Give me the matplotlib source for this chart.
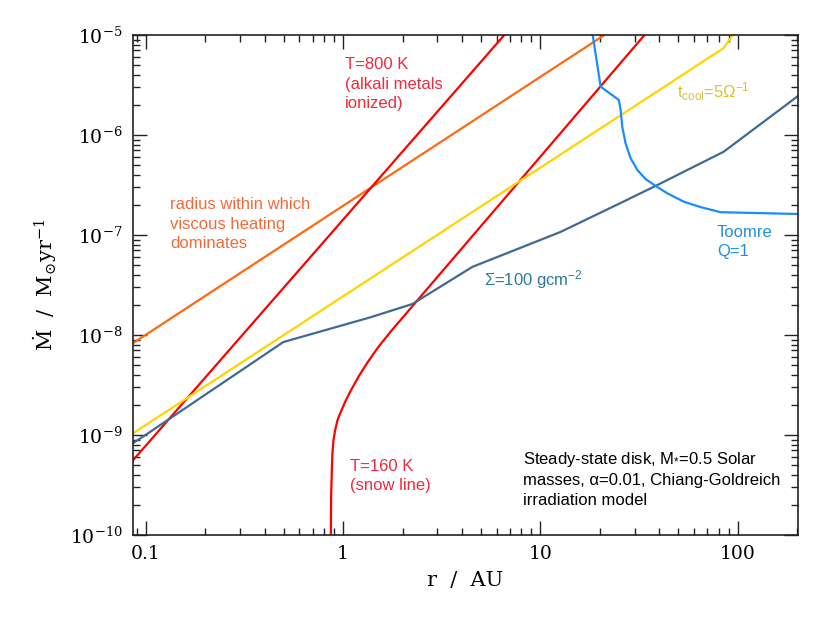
import matplotlib
matplotlib.use("Agg")
import matplotlib.pyplot as plt
from matplotlib.ticker import LogLocator, FixedLocator, FixedFormatter, NullFormatter

# ---------------- data ----------------
r_visc = [0.0861, 21.1]
mdot_visc = [8.3e-9, 1.0e-5]

r_t800 = [0.0861, 6.56]
mdot_t800 = [5.6e-10, 1.0e-5]

r_t160 = [0.866, 0.866, 0.869, 0.876, 0.882, 0.893, 0.911, 0.936, 0.966, 1.024,
          1.085, 1.196, 1.319, 1.511, 1.767, 33.7]
mdot_t160 = [5e-11, 1.12e-10, 2.42e-10, 4.47e-10, 6.56e-10, 8.9e-10, 1.12e-9, 1.41e-9,
             1.65e-9, 2.15e-9, 2.71e-9, 3.83e-9, 5.21e-9, 7.64e-9, 1.12e-8, 1.0e-5]

r_tcool = [0.0861, 84.9, 94.3]
mdot_tcool = [1.04e-9, 7.4e-6, 1.0e-5]

r_sigma = [0.0861, 0.101, 0.497, 1.37, 2.24, 4.52, 12.6, 25.5, 38.4, 84.9, 202]
mdot_sigma = [8.3e-10, 1.02e-9, 8.5e-9, 1.5e-8, 2.04e-8, 4.8e-8,
              1.07e-7, 2.09e-7, 3.1e-7, 6.8e-7, 2.45e-6]

r_toomre = [18.4, 20.2, 24.97, 25.5, 26.0, 27.0, 28.6, 31.0, 34.1, 38.4, 44.0, 53.4, 64.9, 82.0, 209]
mdot_toomre = [1.0e-5, 3.04e-6, 2.24e-6, 1.78e-6, 1.21e-6, 8.3e-7, 5.9e-7, 4.47e-7,
               3.63e-7, 3.09e-7, 2.61e-7, 2.15e-7, 1.9e-7, 1.69e-7, 1.62e-7]

xticks = [0.1, 1, 10, 100]
xticklabels = ["0.1", "1", "10", "100"]
yticks = [1e-10, 1e-9, 1e-8, 1e-7, 1e-6, 1e-5]
yticklabels = [r"$10^{-10}$", r"$10^{-9}$", r"$10^{-8}$", r"$10^{-7}$", r"$10^{-6}$", r"$10^{-5}$"]

# ---------------- figure ----------------
W, H = 830, 623
fig = plt.figure(figsize=(W / 100, H / 100), dpi=100)
L, R, T, B = 132.5, 797.5, 35, 535
ax = fig.add_axes([L / W, 1 - B / H, (R - L) / W, (B - T) / H])

ax.set_xscale("log")
ax.set_yscale("log")
ax.set_xlim(0.0855, 201)
ax.set_ylim(1e-10, 1e-5)

lw = 1.6
ax.plot(r_visc, mdot_visc, color="#FF6A10", lw=lw)
ax.plot(r_t800, mdot_t800, color="#FF0000", lw=lw)
ax.plot(r_t160, mdot_t160, color="#FF0000", lw=lw)
ax.plot(r_tcool, mdot_tcool, color="#FFD400", lw=lw)
ax.plot(r_sigma, mdot_sigma, color="#3E6A94", lw=lw)
ax.plot(r_toomre, mdot_toomre, color="#1A8CFF", lw=lw)

# ticks
ax.xaxis.set_major_locator(FixedLocator(xticks))
ax.xaxis.set_major_formatter(FixedFormatter(xticklabels))
ax.yaxis.set_major_locator(FixedLocator(yticks))
ax.yaxis.set_major_formatter(FixedFormatter(yticklabels))
ax.xaxis.set_minor_locator(LogLocator(base=10, subs=range(2, 10), numticks=20))
ax.yaxis.set_minor_locator(LogLocator(base=10, subs=range(2, 10), numticks=20))
ax.xaxis.set_minor_formatter(NullFormatter())
ax.yaxis.set_minor_formatter(NullFormatter())
ax.tick_params(which="both", direction="in", top=True, right=True, color="#222222")
ax.tick_params(which="major", length=10, width=1.0)
ax.tick_params(which="minor", length=5, width=1.0)
ax.tick_params(axis="x", which="major", pad=7)
ax.tick_params(axis="y", which="major", pad=7)
for lab in ax.get_xticklabels() + ax.get_yticklabels():
    lab.set_fontfamily("DejaVu Serif")
    lab.set_fontsize(13.5)
    lab.set_math_fontfamily("dejavuserif")
for s in ax.spines.values():
    s.set_linewidth(1.2)
    s.set_color("#222222")

# axis labels
fig.text(465 / W, 1 - 580 / H, "r  /  AU", ha="center", va="center",
         fontfamily="DejaVu Serif", fontsize=15)
fig.text(45 / W, 1 - 285 / H, r"$\dot{\mathrm{M}}$  /  M$_{\odot}$yr$^{-1}$",
         ha="center", va="center", rotation=90, fontfamily="DejaVu Serif",
         fontsize=15, math_fontfamily="dejavuserif")


def px(xp, yp):
    return ((xp - L) / (R - L), (B - yp) / (B - T))


sans = dict(fontfamily="Liberation Sans", fontsize=12, linespacing=1.35,
            transform=ax.transAxes, math_fontfamily="dejavusans")

ax.text(*px(345, 84), "T=800 K\n(alkali metals\nionized)", color="#EE2A3C",
        ha="left", va="center", **sans)
ax.text(*px(170, 224), "radius within which\nviscous heating\ndominates", color="#F26A3A",
        ha="left", va="center", **sans)
ax.text(*px(677, 98), r"$\mathregular{t_{cool}}$=5Ω$\mathregular{^{-1}}$", color="#D9C232",
        ha="left", va="baseline", **sans)
ax.text(*px(717, 242), "Toomre\nQ=1", color="#1E90E0", ha="left", va="center", **sans)
ax.text(*px(484, 280), r"Σ=100 gcm$\mathregular{^{-2}}$", color="#2A7B9B",
        ha="left", va="center", **sans)
ax.text(*px(350, 476), "T=160 K\n(snow line)", color="#EE2A3C",
        ha="left", va="center", **sans)
ax.text(*px(523, 479),
        "Steady-state disk, M$\\mathregular{_{*}}$=0.5 Solar\nmasses, α=0.01, Chiang-Goldreich\nirradiation model",
        color="black", ha="left", va="center", **sans)

fig.savefig("out.png", dpi=100)
